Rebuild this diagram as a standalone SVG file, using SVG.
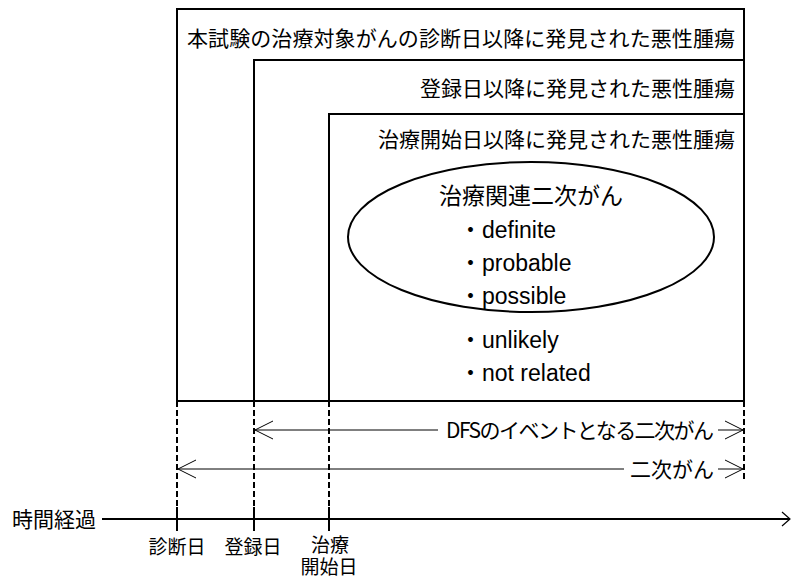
<svg xmlns="http://www.w3.org/2000/svg" width="792" height="580" viewBox="0 0 792 580">
<style>
.box{fill:none;stroke:#000;stroke-width:2}
.dash{fill:none;stroke:#000;stroke-width:2;stroke-dasharray:6 3}
.thin{fill:none;stroke:#000;stroke-width:1}
.tick{fill:none;stroke:#000;stroke-width:2}
.jp{font-family:"Noto Sans CJK JP","Liberation Sans",sans-serif;font-size:21px;fill:#000}
.en{font-family:"Liberation Sans","Noto Sans CJK JP",sans-serif;font-size:23px;fill:#000}
.tl{font-family:"Liberation Sans","Noto Sans CJK JP",sans-serif;font-size:19px;fill:#000}
</style>
<defs>
<marker id="open" viewBox="0 0 20 22" refX="19" refY="11" markerWidth="20" markerHeight="22" markerUnits="userSpaceOnUse" orient="auto-start-reverse">
<path d="M1,2 L19,11 L1,20" fill="none" stroke="#000" stroke-width="1"/>
</marker>
<marker id="axis" viewBox="0 0 10 16" refX="9" refY="8" markerWidth="10" markerHeight="16" markerUnits="userSpaceOnUse" orient="auto">
<path d="M1,1 L9,8 L1,15" fill="none" stroke="#000" stroke-width="1.2"/>
</marker>
</defs>
<g id="set-diagnosis">
<rect class="box" x="177" y="9" width="567" height="392"/>
<text class="jp" x="187" y="46" textLength="548">本試験の治療対象がんの診断日以降に発見された悪性腫瘍</text>
</g>
<g id="set-registration">
<rect class="box" x="254" y="60" width="490" height="341"/>
<text class="jp" x="735" y="96" text-anchor="end">登録日以降に発見された悪性腫瘍</text>
</g>
<g id="set-treatment">
<rect class="box" x="329" y="114" width="415" height="287"/>
<text class="jp" x="735" y="147" text-anchor="end">治療開始日以降に発見された悪性腫瘍</text>
</g>
<g id="treatment-related">
<ellipse class="box" cx="531" cy="237" rx="183" ry="75"/>
<text class="jp" x="531" y="204" text-anchor="middle" style="font-size:23px">治療関連二次がん</text>
<text class="en" x="459" y="238">・definite</text>
<text class="en" x="459" y="271">・probable</text>
<text class="en" x="459" y="304">・possible</text>
</g>
<g id="unrelated">
<text class="en" x="459" y="348">・unlikely</text>
<text class="en" x="459" y="381">・not related</text>
</g>
<g id="connectors">
<line class="dash" x1="177" y1="401" x2="177" y2="508"/>
<line class="dash" x1="254" y1="401" x2="254" y2="508"/>
<line class="dash" x1="329" y1="401" x2="329" y2="508"/>
<line class="dash" x1="744" y1="401" x2="744" y2="482"/>
<line class="thin" x1="255" y1="430" x2="743" y2="430" marker-start="url(#open)" marker-end="url(#open)"/>
<line class="thin" x1="178" y1="469" x2="743" y2="469" marker-start="url(#open)" marker-end="url(#open)"/>
<line class="tick" x1="102" y1="519" x2="790" y2="519" marker-end="url(#axis)"/>
<line class="tick" x1="177" y1="507" x2="177" y2="531"/>
<line class="tick" x1="254" y1="507" x2="254" y2="531"/>
<line class="tick" x1="329" y1="507" x2="329" y2="531"/>
</g>
<g id="label-dfs">
<rect x="438" y="417" width="280" height="27" fill="#fff"/>
<text class="jp" x="446" y="438" textLength="268">DFSのイベントとなる二次がん</text>
</g>
<g id="label-second">
<rect x="624" y="456" width="94" height="27" fill="#fff"/>
<text class="jp" x="714" y="477" text-anchor="end">二次がん</text>
</g>
<g id="timeline-labels">
<text class="jp" x="12" y="527">時間経過</text>
<text class="tl" x="177" y="554" text-anchor="middle">診断日</text>
<text class="tl" x="253" y="554" text-anchor="middle">登録日</text>
<text class="tl" x="330" y="552" text-anchor="middle">治療</text>
<text class="tl" x="329" y="574" text-anchor="middle">開始日</text>
</g>
</svg>
